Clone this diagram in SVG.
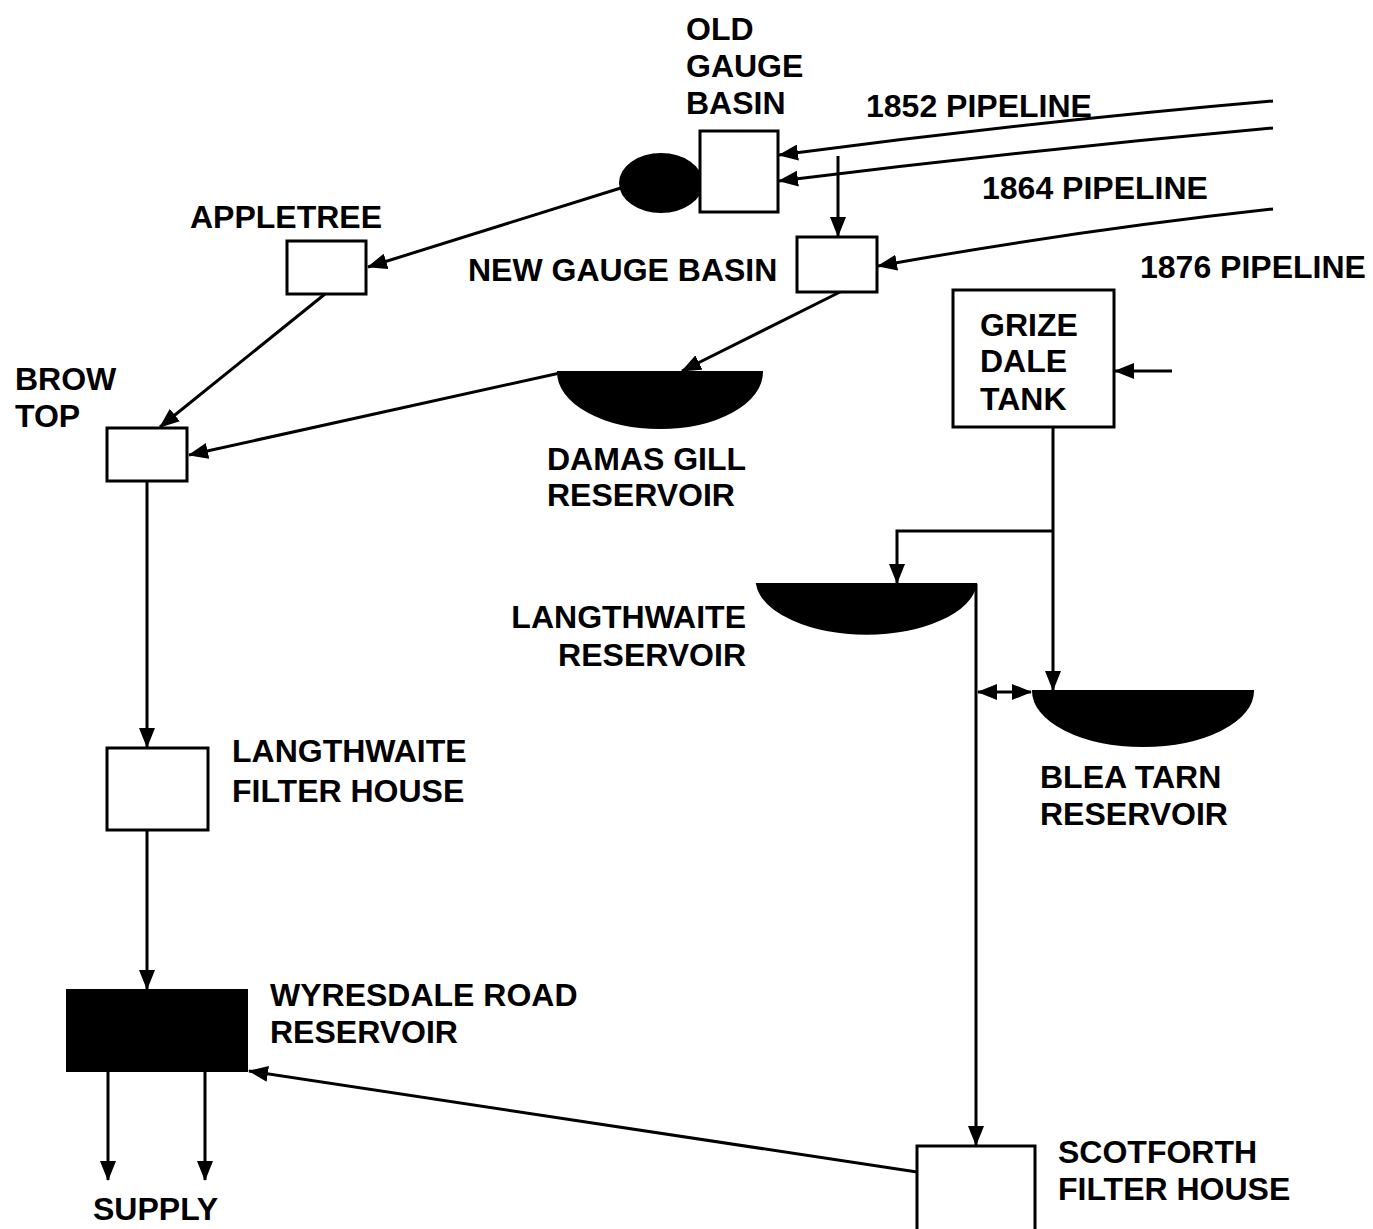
<svg xmlns="http://www.w3.org/2000/svg" width="1373" height="1229" viewBox="0 0 1373 1229">
<style>
text{font-family:"Liberation Sans",Arial,sans-serif;font-weight:bold;font-size:32px;fill:#000}
.box{fill:#fff;stroke:#000;stroke-width:3}
.blk{fill:#000;stroke:#000;stroke-width:2}
.ln{fill:none;stroke:#000;stroke-width:3}
.ar{marker-end:url(#ah)}
</style>
<defs>
<marker id="ah" viewBox="0 0 20 16" refX="19" refY="8" markerWidth="20" markerHeight="16" markerUnits="userSpaceOnUse" orient="auto-start-reverse">
<path d="M0,0 L20,8 L0,16 Z" fill="#000"/>
</marker>
</defs>
<rect width="1373" height="1229" fill="#fff"/>
<g id="connectors">
<path class="ln ar" d="M1273,101 Q1030,122 779,155"/>
<path class="ln ar" d="M1273,128 Q1030,150 779,181"/>
<path class="ln ar" d="M1273,209 Q1080,230 878,266"/>
<path class="ln ar" d="M838,156 V236"/>
<path class="ln ar" d="M624,187 L368,267"/>
<path class="ln ar" d="M325,294 L160,427"/>
<path class="ln ar" d="M840,292 L682,371"/>
<path class="ln ar" d="M560,373 L189,455"/>
<path class="ln ar" d="M1172,371 H1115"/>
<path class="ln ar" d="M1053,427 V690"/>
<path class="ln ar" d="M1053,531 H897 V583"/>
<path class="ln ar" d="M976,584 V1145"/>
<path class="ln" d="M978,692 H1031" marker-start="url(#ah)" marker-end="url(#ah)"/>
<path class="ln ar" d="M147,481 V747"/>
<path class="ln ar" d="M147,830 V989"/>
<path class="ln ar" d="M108,1071 V1180"/>
<path class="ln ar" d="M205,1071 V1180"/>
<path class="ln ar" d="M917,1172 L249,1071"/>
</g>
<g id="old-gauge-basin">
<ellipse class="blk" cx="661" cy="183" rx="41" ry="29"/>
<rect class="box" x="700" y="131" width="78" height="81"/>
<text x="686" y="40">OLD</text>
<text x="686" y="77">GAUGE</text>
<text x="686" y="114">BASIN</text>
</g>
<g id="pipelines">
<text x="866" y="117">1852 PIPELINE</text>
<text x="982" y="199">1864 PIPELINE</text>
<text x="1140" y="278">1876 PIPELINE</text>
</g>
<g id="new-gauge-basin">
<rect class="box" x="797" y="237" width="80" height="55"/>
<text x="468" y="281">NEW GAUGE BASIN</text>
</g>
<g id="appletree">
<rect class="box" x="287" y="241" width="79" height="53"/>
<text x="190" y="228">APPLETREE</text>
</g>
<g id="brow-top">
<rect class="box" x="107" y="428" width="80" height="53"/>
<text x="15" y="390">BROW</text>
<text x="15" y="427">TOP</text>
</g>
<g id="damas-gill">
<path class="blk" d="M558,372 H762 A102,56 0 0 1 558,372 Z"/>
<text x="547" y="470">DAMAS GILL</text>
<text x="547" y="506">RESERVOIR</text>
</g>
<g id="grize-dale-tank">
<rect class="box" x="953" y="290" width="161" height="137"/>
<text x="980" y="336">GRIZE</text>
<text x="980" y="372">DALE</text>
<text x="980" y="410">TANK</text>
</g>
<g id="langthwaite-reservoir">
<path class="blk" d="M757,584 H976 A110,55 0 0 1 757,584 Z"/>
<text x="746" y="628" text-anchor="end">LANGTHWAITE</text>
<text x="746" y="666" text-anchor="end">RESERVOIR</text>
</g>
<g id="blea-tarn">
<path class="blk" d="M1033,691 H1253 A110,55 0 0 1 1033,691 Z"/>
<text x="1040" y="788">BLEA TARN</text>
<text x="1040" y="825">RESERVOIR</text>
</g>
<g id="langthwaite-filter-house">
<rect class="box" x="107" y="748" width="101" height="82"/>
<text x="232" y="762">LANGTHWAITE</text>
<text x="232" y="802">FILTER HOUSE</text>
</g>
<g id="wyresdale-road">
<rect class="blk" x="67" y="990" width="180" height="81"/>
<text x="270" y="1006">WYRESDALE ROAD</text>
<text x="270" y="1043">RESERVOIR</text>
</g>
<g id="supply">
<text x="93" y="1220">SUPPLY</text>
</g>
<g id="scotforth">
<rect class="box" x="917" y="1146" width="118" height="90"/>
<text x="1058" y="1163">SCOTFORTH</text>
<text x="1058" y="1200">FILTER HOUSE</text>
</g>
</svg>
